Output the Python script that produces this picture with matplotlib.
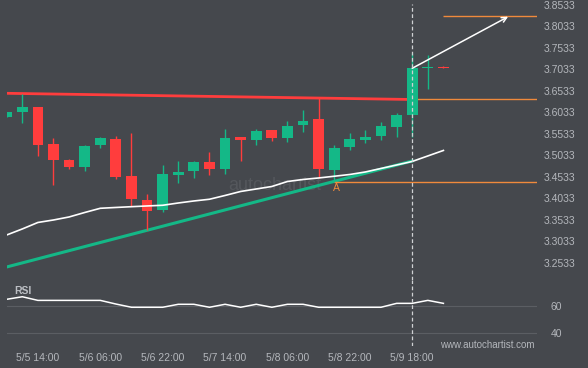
import matplotlib
matplotlib.use("Agg")
import matplotlib.pyplot as plt

plt.rcParams['font.family'] = ['Liberation Sans', 'DejaVu Sans']

# 4h candles, first one is cut by the left edge
opens = [3.5928, 3.6045, 3.6154, 3.5293, 3.4921, 3.4766, 3.5270, 3.5410, 3.4556, 3.3991,
         3.3758, 3.4579, 3.4672, 3.4875, 3.4719, 3.5456, 3.5393, 3.5619, 3.5433, 3.5735,
         3.5868, 3.4689, 3.5224, 3.5393, 3.5479, 3.5695, 3.5968, 3.7061, 3.7078]
highs = [3.6031, 3.6450, 3.6154, 3.5426, 3.4945, 3.5270, 3.5463, 3.5479, 3.5541, 3.4130,
         3.4805, 3.4898, 3.4905, 3.5100, 3.5642, 3.5456, 3.5635, 3.5619, 3.5829, 3.6084,
         3.6357, 3.5270, 3.5541, 3.5619, 3.5812, 3.6008, 3.7403, 3.7363, 3.7114]
lows = [3.5928, 3.5775, 3.5021, 3.4339, 3.4705, 3.4672, 3.5207, 3.4480, 3.3858, 3.3293,
        3.3705, 3.4379, 3.4496, 3.4572, 3.4603, 3.4898, 3.5263, 3.5370, 3.5333, 3.5565,
        3.4510, 3.4417, 3.5154, 3.5324, 3.5386, 3.5463, 3.5463, 3.6565, 3.7068]
closes = [3.6031, 3.6154, 3.5270, 3.4921, 3.4766, 3.5247, 3.5433, 3.4533, 3.4014, 3.3735,
          3.4596, 3.4642, 3.4875, 3.4719, 3.5433, 3.5393, 3.5596, 3.5426, 3.5712, 3.5829,
          3.4712, 3.5208, 3.5410, 3.5463, 3.5712, 3.5968, 3.7061, 3.7068, 3.7068]
moving_avg = [3.3177, 3.3317, 3.3468, 3.3526, 3.3596, 3.3700, 3.3798, 3.3817, 3.3835, 3.3852,
              3.3868, 3.3921, 3.3968, 3.4008, 3.4096, 3.4189, 3.4247, 3.4305, 3.4421, 3.4468,
              3.4503, 3.4543, 3.4584, 3.4643, 3.4724, 3.4805, 3.4887, 3.5015, 3.5143]
rsi = [65.2, 67.1, 64.4, 64.4, 64.4, 64.4, 64.4, 61.7, 59.3, 59.3,
       59.3, 61.5, 61.5, 59.3, 61.5, 59.3, 61.5, 59.3, 61.5, 61.5,
       59.3, 59.3, 59.3, 59.3, 59.3, 62.2, 62.2, 64.4, 62.2]

tick_idx = [2, 6, 10, 14, 18, 22, 26]
tick_labels = ['5/5 14:00', '5/6 06:00', '5/6 22:00', '5/7 14:00',
               '5/8 06:00', '5/8 22:00', '5/9 18:00']
price_ticks = [3.2533, 3.3033, 3.3533, 3.4033, 3.4533, 3.5033, 3.5533,
               3.6033, 3.6533, 3.7033, 3.7533, 3.8033, 3.8533]

resistance_x = [0, 26]
resistance_y = [3.6472, 3.6328]
support_x = [0, 26]
support_y = [3.2433, 3.4898]
breakout_idx = 26
breakout_level = 3.6333
point_a_idx = 21
point_a_level = 3.4417
target_idx = 28
target_level = 3.8270
arrow_start = (26, 3.7054)
arrow_end = (32.15, 3.8254)

bg = '#45484d'
green = '#14b887'
red = '#ff3d3d'
orange = '#f08a3c'
txt = '#b4b7bc'

W, H = 588, 368
fig = plt.figure(figsize=(W / 100, H / 100), dpi=100, facecolor=bg)
ax = fig.add_axes([6.7 / W, 1 - 280 / H, (537 - 6.7) / W, 280 / H])
rax = fig.add_axes([6.7 / W, 1 - 346 / H, (537 - 6.7) / W, 66 / H])

for a in (ax, rax):
    a.set_facecolor(bg)
    for s in a.spines.values():
        s.set_visible(False)
    a.set_xlim(0, 34)

ax.set_ylim(3.2130, 3.8642)
rax.set_ylim(30.6, 79.5)

# candles
for i in range(len(opens)):
    o, h, l, c = opens[i], highs[i], lows[i], closes[i]
    col = green if c >= o else red
    ax.vlines(i, l, h, color=col, lw=1, zorder=3)
    ax.bar(i, max(abs(c - o), 0.0024), bottom=min(o, c), width=0.69,
           color=col, zorder=3)

# trend lines
ax.plot(resistance_x, resistance_y, color=red, lw=2.0, zorder=2)
ax.plot(support_x, support_y, color=green, lw=2.2, zorder=2)
ax.plot(range(len(moving_avg)), moving_avg, color='white', lw=1.2, zorder=4)

ax.hlines(breakout_level, breakout_idx, 34, color=orange, lw=1, zorder=2)
ax.hlines(point_a_level, point_a_idx, 34, color=orange, lw=1, zorder=2)
ax.hlines(target_level, target_idx, 34, color=orange, lw=1, zorder=2)
ax.text(point_a_idx + 0.15, point_a_level - 0.003, 'A', color=orange,
        fontsize=7.5, ha='center', va='top', zorder=5)

ax.annotate('', xy=arrow_end, xytext=arrow_start,
            arrowprops=dict(arrowstyle='->', color='white', lw=1.1,
                            mutation_scale=9, shrinkA=0, shrinkB=0), zorder=5)

ax.axvline(breakout_idx, ymax=(280 - 4) / 280, color='#cfd1d4', lw=0.9,
           ls=(0, (3, 2)), zorder=6)
rax.axvline(breakout_idx, color='#cfd1d4', lw=0.9, ls=(0, (3, 2)), zorder=6)

# faint watermark
ax.text(17.2, 3.4225, 'autochartist', color='#54575c', fontsize=13,
        ha='center', va='baseline', zorder=1)

# price axis
ax.yaxis.tick_right()
ax.set_yticks(price_ticks)
ax.set_yticklabels([f'{v:.4f}' for v in price_ticks])
ax.tick_params(axis='y', length=0, pad=5, labelsize=7.5, labelcolor=txt)
ax.set_xticks([])

# RSI panel
rax.plot(range(len(rsi)), rsi, color='white', lw=1.1, zorder=3)
for lvl in (60, 40):
    rax.axhline(lvl, color='#5b5e63', lw=0.8, zorder=1)
rax.yaxis.tick_right()
rax.set_yticks([60, 40])
rax.set_yticklabels(['60', '40'])
rax.tick_params(axis='y', length=0, pad=10, labelsize=7.5, labelcolor=txt)
rax.set_xticks(tick_idx)
rax.set_xticklabels(tick_labels)
rax.tick_params(axis='x', length=0, pad=5, labelsize=7.5, labelcolor=txt)

fig.text(14 / W, 1 - 291 / H, 'RSI', color='#bcbfc4', fontsize=7.5,
         fontweight='bold', va='center', ha='left')
fig.text(535 / W, 1 - 345 / H, 'www.autochartist.com', color=txt,
         fontsize=7, va='center', ha='right')

fig.savefig('out.png', dpi=100, facecolor=bg)
